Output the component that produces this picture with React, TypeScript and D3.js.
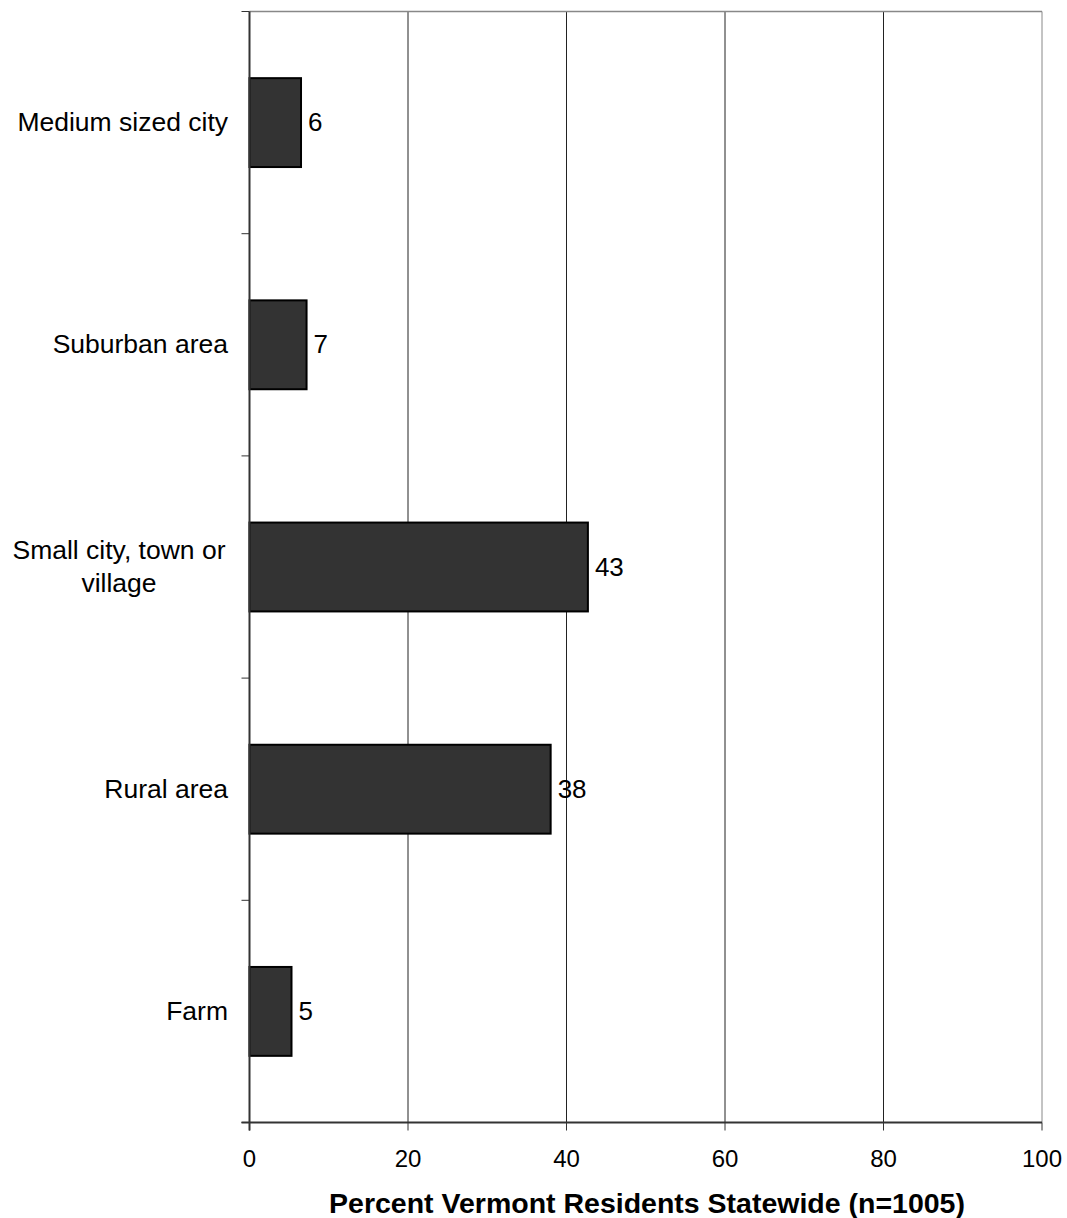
import React from "react";
import * as d3 from "d3";

const categories = ["Medium sized city", "Suburban area", "Small city, town or village", "Rural area", "Farm"];
const values = [6.5, 7.2, 42.7, 38.0, 5.3];
const labels = ["6", "7", "43", "38", "5"];
const xTicks = [0, 20, 40, 60, 80, 100];
const categoryLines: string[][] = [["Medium sized city"], ["Suburban area"], ["Small city, town or", "village"], ["Rural area"], ["Farm"]];

export default function App() {
  const W = 1067, H = 1218;
  const left = 249.5, right = 1042, top = 11.5, bottom = 1122.5;
  const x = d3.scaleLinear().domain([0, 100]).range([left, right]);
  const y = d3.scaleBand<string>().domain(categories).range([top, bottom]).paddingInner(0.6).paddingOuter(0.3);
  const bandStep = (bottom - top) / categories.length;
  const font = "Arial, 'Liberation Sans', sans-serif";
  return (
    <svg width={W} height={H} style={{ position: "absolute", left: 0, top: 0, background: "#fff" }} fontFamily={font}>
      {/* gridlines */}
      {xTicks.slice(1).map((t) => (
        <line key={"g" + t} x1={x(t)} x2={x(t)} y1={top} y2={bottom} stroke={t === 100 ? "#888" : "#222"} strokeWidth={1} />
      ))}
      <line x1={left} x2={right} y1={top} y2={top} stroke="#888" strokeWidth={1.5} />
      {/* bars */}
      {categories.map((c, i) => (
        <g key={c}>
          <rect x={x(0)} y={y(c)!} width={x(values[i]) - x(0)} height={y.bandwidth()} fill="#333333" stroke="#000" strokeWidth={2} />
          <text x={x(values[i]) + 7} y={y(c)! + y.bandwidth() / 2 + 8.5} fontSize={26} fill="#000">{labels[i]}</text>
        </g>
      ))}
      {/* y axis */}
      <line x1={left} x2={left} y1={top} y2={bottom + 8} stroke="#333" strokeWidth={2} />
      {d3.range(categories.length + 1).map((i) => (
        <line key={"yt" + i} x1={left - 8} x2={left} y1={top + i * bandStep} y2={top + i * bandStep} stroke="#333" strokeWidth={1} />
      ))}
      {/* x axis */}
      <line x1={left - 8} x2={right} y1={bottom} y2={bottom} stroke="#333" strokeWidth={2} />
      {xTicks.map((t) => (
        <g key={"xt" + t}>
          <line x1={x(t)} x2={x(t)} y1={bottom} y2={bottom + 8} stroke="#333" strokeWidth={1} />
          <text x={x(t)} y={1166.5} textAnchor="middle" fontSize={24} fill="#000">{t}</text>
        </g>
      ))}
      {/* category labels */}
      {categories.map((c, i) => {
        const lines = categoryLines[i];
        const cy = y(c)! + y.bandwidth() / 2;
        if (lines.length === 1) {
          return <text key={"cl" + c} x={228} y={cy + 8.5} textAnchor="end" fontSize={26.5} fill="#000">{lines[0]}</text>;
        }
        return (
          <text key={"cl" + c} textAnchor="middle" fontSize={26.5} fill="#000">
            {lines.map((l, j) => (
              <tspan key={j} x={119} y={cy - 8.5 + j * 33.5}>{l}</tspan>
            ))}
          </text>
        );
      })}
      <text x={647} y={1213} textAnchor="middle" fontSize={28.5} fontWeight="bold" fill="#000">Percent Vermont Residents Statewide (n=1005)</text>
    </svg>
  );
}
